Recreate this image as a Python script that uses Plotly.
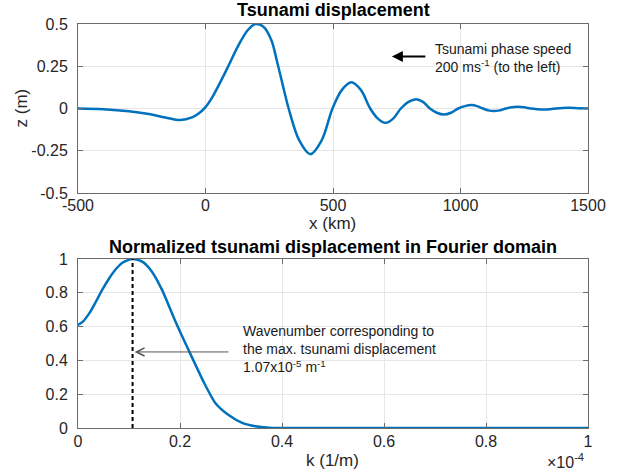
import plotly.graph_objects as go
from plotly.subplots import make_subplots

# Tsunami surface displacement along the profile
x_km = [-500, -400, -300, -222, -157, -98, -53, -27, 0, 25, 51, 89, 128, 167,
        196, 226, 258, 281, 310, 326, 368, 411, 455, 498, 535, 572, 609, 646,
        676, 706, 736, 766, 796, 826, 853, 880, 907, 935, 963, 991, 1017, 1043,
        1065, 1088, 1109, 1130, 1154, 1178, 1201, 1225, 1250, 1275, 1301, 1327,
        1351, 1375, 1400, 1424, 1462, 1500]
z_m = [0.0, -0.004, -0.016, -0.033, -0.053, -0.068, -0.053, -0.03, 0.008, 0.063,
       0.135, 0.249, 0.371, 0.466, 0.5, 0.485, 0.406, 0.275, 0.095, 0.0, -0.19,
       -0.27, -0.19, 0.0, 0.11, 0.155, 0.11, 0.0, -0.06, -0.085, -0.06, 0.0, 0.039,
       0.055, 0.039, 0.0, -0.025, -0.036, -0.025, 0.0, 0.014, 0.02, 0.014, 0.0,
       -0.011, -0.015, -0.011, 0.0, 0.007, 0.01, 0.007, 0.0, -0.004, -0.006,
       -0.004, 0.0, 0.003, 0.004, 0.002, 0.0]

# Normalised spectrum of the displacement
k_inv_m = [0.0, 0.091e-5, 0.22e-5, 0.35e-5, 0.48e-5, 0.61e-5, 0.74e-5, 0.87e-5,
           1.07e-5, 1.26e-5, 1.45e-5, 1.65e-5, 1.90e-5, 2.17e-5, 2.48e-5, 2.70e-5,
           2.96e-5, 3.22e-5, 3.48e-5, 3.74e-5, 4.0e-5, 5.0e-5, 6.0e-5, 7.0e-5,
           8.0e-5, 9.0e-5, 1.0e-4]
amp_norm = [0.61, 0.628, 0.678, 0.747, 0.82, 0.885, 0.939, 0.978, 1.0, 0.984,
            0.925, 0.816, 0.638, 0.46, 0.263, 0.145, 0.075, 0.03, 0.01, 0.002,
            0.0, 0.0, 0.0, 0.0, 0.0, 0.0, 0.0]

k_peak = 1.07e-5

x_ticks = [-500, 0, 500, 1000, 1500]
z_ticks = [-0.5, -0.25, 0, 0.25, 0.5]
z_tick_text = ["-0.5", "-0.25", "0", "0.25", "0.5"]
k_ticks = [0, 2e-5, 4e-5, 6e-5, 8e-5, 1e-4]
k_tick_text = ["0", "0.2", "0.4", "0.6", "0.8", "1"]
a_ticks = [0, 0.2, 0.4, 0.6, 0.8, 1]
a_tick_text = ["0", "0.2", "0.4", "0.6", "0.8", "1"]

BLUE = "#0072BD"
FONT = "Liberation Sans, Arial, Helvetica, sans-serif"
L, R, T, B = 78, 26, 24, 48
W, H = 618, 476
PW, PH = W - L - R, H - T - B


def px_x(px):
    return (px - L) / PW


def px_y(py):
    return (H - B - py) / PH


top_lo = px_y(193)
bot_hi = px_y(259)

fig = make_subplots(rows=2, cols=1)
fig.update_layout(
    yaxis=dict(domain=[top_lo, 1.0]),
    yaxis2=dict(domain=[0.0, bot_hi]),
)

fig.add_trace(go.Scatter(x=x_km, y=z_m, mode="lines",
                         line=dict(color=BLUE, width=2.5, shape="spline", smoothing=1.0),
                         hoverinfo="skip"), row=1, col=1)
fig.add_trace(go.Scatter(x=k_inv_m, y=amp_norm, mode="lines",
                         line=dict(color=BLUE, width=2.5, shape="spline", smoothing=0.7),
                         hoverinfo="skip"), row=2, col=1)
fig.add_trace(go.Scatter(x=[k_peak, k_peak], y=[0, max(amp_norm)], mode="lines",
                         line=dict(color="black", width=2, dash="4px,3px"),
                         hoverinfo="skip"), row=2, col=1)

axis_common = dict(
    showline=True, linecolor="#6b6b6b", linewidth=1, mirror="ticks",
    ticks="inside", ticklen=5, tickcolor="#6b6b6b",
    showgrid=True, gridcolor="#e6e6e6", gridwidth=1, zeroline=False,
    tickfont=dict(family=FONT, size=16, color="#262626"),
)

fig.update_xaxes(**axis_common)
fig.update_yaxes(**axis_common)
fig.update_xaxes(range=[-500, 1500], tickvals=x_ticks,
                 ticktext=[str(v) for v in x_ticks], ticklabelstandoff=-2, row=1, col=1)
fig.update_yaxes(range=[-0.5, 0.5], tickvals=z_ticks, ticktext=z_tick_text,
                 ticklabelstandoff=6, row=1, col=1)
fig.update_xaxes(range=[0, 1e-4], tickvals=k_ticks, ticktext=k_tick_text,
                 ticklabelstandoff=-1, row=2, col=1)
fig.update_yaxes(range=[0, 1], tickvals=a_ticks, ticktext=a_tick_text,
                 ticklabelstandoff=6, row=2, col=1)

txt = dict(family=FONT, size=14, color="#1a1a1a")
ann = [
    dict(text="<b>Tsunami displacement</b>", x=0.5, y=px_y(10),
         font=dict(family=FONT, size=18, color="black")),
    dict(text="<b>Normalized tsunami displacement in Fourier domain</b>", x=0.5,
         y=px_y(247), font=dict(family=FONT, size=18, color="black")),
    dict(text="x (km)", x=px_x(334), y=px_y(223.5),
         font=dict(family=FONT, size=17, color="#262626")),
    dict(text="k (1/m)", x=px_x(334), y=px_y(460),
         font=dict(family=FONT, size=17, color="#262626")),
    dict(text="z (m)", x=px_x(22), y=px_y(108), textangle=-90,
         font=dict(family=FONT, size=17, color="#262626")),
    dict(text="×10<sup>-4</sup>", x=px_x(569), y=px_y(461),
         font=dict(family=FONT, size=16, color="#262626")),
    dict(text="Tsunami phase speed<br>200 ms<sup>-1</sup> (to the left)",
         x=px_x(436), y=px_y(58), xanchor="left", align="left", font=txt),
    dict(text="Wavenumber corresponding to<br>the max. tsunami displacement<br>"
              "1.07x10<sup>-5</sup> m<sup>-1</sup>",
         x=px_x(242), y=px_y(349), xanchor="left", align="left", font=txt),
]
for a in ann:
    a.setdefault("xanchor", "center")
    a.setdefault("yanchor", "middle")
    a.update(xref="paper", yref="paper", showarrow=False)

# Direction-of-travel arrow (top) and peak-wavenumber pointer (bottom)
ann.append(dict(x=731, y=0.308, ax=868, ay=0.308, xref="x", yref="y",
                axref="x", ayref="y", text="", showarrow=True, arrowhead=2,
                arrowsize=1.1, arrowwidth=2, arrowcolor="black"))
ann.append(dict(x=1.11e-5, y=0.45, ax=2.98e-5, ay=0.45, xref="x2", yref="y2",
                axref="x2", ayref="y2", text="", showarrow=True, arrowhead=5,
                arrowsize=1.6, arrowwidth=1, arrowcolor="#555555"))

fig.update_layout(
    width=W, height=H,
    margin=dict(l=L, r=R, t=T, b=B),
    paper_bgcolor="white", plot_bgcolor="white",
    showlegend=False, annotations=ann,
    font=dict(family=FONT),
)

fig.write_html("out.html")
